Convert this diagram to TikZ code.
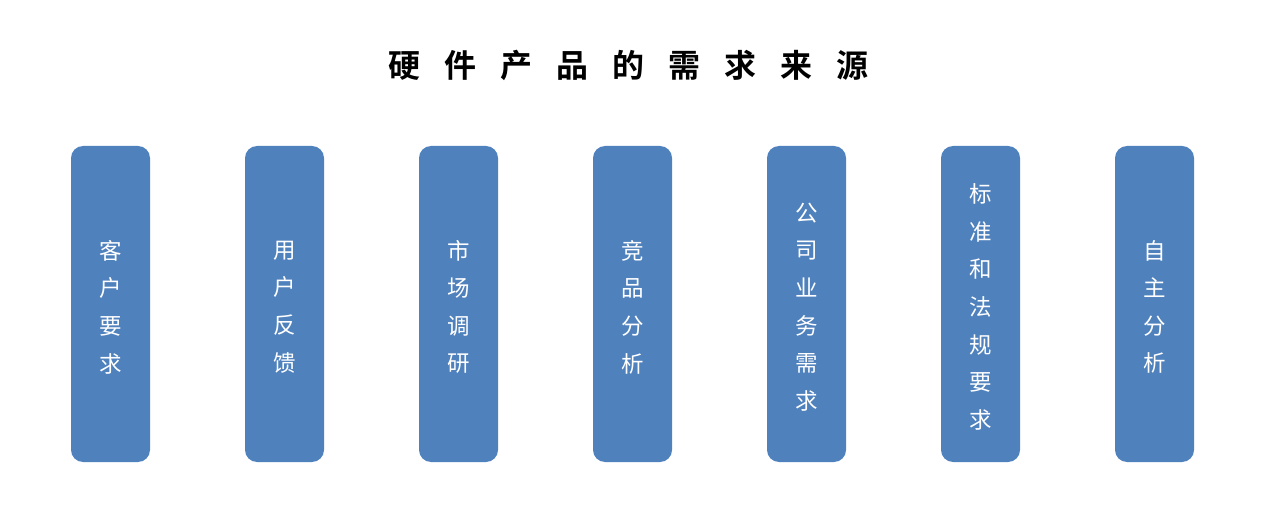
\documentclass[tikz,border=0pt]{standalone}
\usepackage{fontspec}
\newfontfamily\cjk{Noto Sans CJK SC}
\newfontfamily\cjkb{Noto Sans CJK SC Bold}
\definecolor{boxblue}{HTML}{4F81BD}
\tikzset{
  srcbox/.style={fill=boxblue, draw=none, rounded corners=12pt, minimum width=79pt, minimum height=316pt, inner sep=0pt},
  boxtext/.style={inner sep=0pt, text=white, align=center, font=\cjk\fontsize{22.5pt}{37.6pt}\selectfont},
  titletext/.style={font=\cjkb\fontsize{32pt}{38pt}\selectfont, text=black, inner sep=0pt}
}
\begin{document}
\begin{tikzpicture}[x=1pt,y=-1pt]
\useasboundingbox (0,0) rectangle (1269,529);
\node[titletext] (title) at (628,65) {硬\hspace{24pt}件\hspace{24pt}产\hspace{24pt}品\hspace{24pt}的\hspace{24pt}需\hspace{24pt}求\hspace{24pt}来\hspace{24pt}源};
\foreach \i/\x in {1/110.5,2/284.5,3/458.5,4/632.5,5/806.5,6/980.5,7/1154.5}
  \node[srcbox] (b\i) at (\x,304) {};
\node[boxtext] (t1) at ([yshift=-3pt]b1.center) {客\\户\\要\\求};
\node[boxtext] (t2) at ([yshift=-3pt]b2.center) {用\\户\\反\\馈};
\node[boxtext] (t3) at ([yshift=-3pt]b3.center) {市\\场\\调\\研};
\node[boxtext] (t4) at ([yshift=-3pt]b4.center) {竞\\品\\分\\析};
\node[boxtext] (t5) at ([yshift=-3pt]b5.center) {公\\司\\业\\务\\需\\求};
\node[boxtext] (t6) at ([yshift=-3pt]b6.center) {标\\准\\和\\法\\规\\要\\求};
\node[boxtext] (t7) at ([yshift=-3pt]b7.center) {自\\主\\分\\析};
\end{tikzpicture}
\end{document}
